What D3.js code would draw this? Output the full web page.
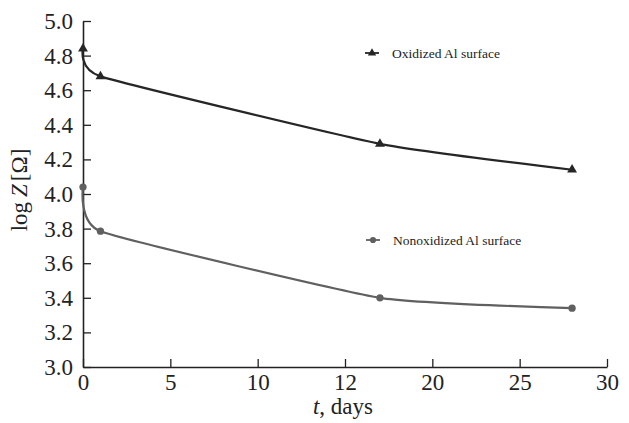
<!DOCTYPE html>
<html>
<head>
<meta charset="utf-8">
<script src="https://cdn.jsdelivr.net/npm/d3@7"></script>
<style>
  body { margin: 0; background: #fff; }
  svg text { font-family: "Liberation Serif", "DejaVu Serif", serif; fill: #222; }
</style>
</head>
<body>
<svg id="chart"></svg>
<script>
// data
const days = [0, 1, 17, 28];
const oxidized = [4.84, 4.68, 4.29, 4.14];
const nonoxidized = [4.04, 3.785, 3.40, 3.34];
const xTicks = [0, 5, 10, 15, 20, 25, 30];
const xTickLabels = ["0", "5", "10", "12", "20", "25", "30"]; // the figure prints "12" at 15
const yTicks = [3.0, 3.2, 3.4, 3.6, 3.8, 4.0, 4.2, 4.4, 4.6, 4.8, 5.0];
const seriesNames = ["Oxidized Al surface", "Nonoxidized Al surface"];

const config = {
  width: 629,
  height: 423,
  margin: { top: 21, right: 22, bottom: 56, left: 83 }
};

const width = config.width - config.margin.left - config.margin.right;
const height = config.height - config.margin.top - config.margin.bottom;
const serif = '"Liberation Serif", "DejaVu Serif", serif';

const svg = d3.select('#chart')
    .attr('width', config.width)
    .attr('height', config.height);

const chart = svg.append('g')
    .attr('transform', `translate(${config.margin.left},${config.margin.top})`);

const xScale = d3.scaleLinear().domain([0, 30]).range([0, width]);
const yScale = d3.scaleLinear().domain([3.0, 5.0]).range([height, 0]);

// axes, ticks point inwards
const xAxis = d3.axisBottom(xScale)
    .tickValues(xTicks)
    .tickFormat((d, i) => xTickLabels[i])
    .tickSizeInner(-8)
    .tickSizeOuter(0)
    .tickPadding(7);

const yAxis = d3.axisLeft(yScale)
    .tickValues(yTicks)
    .tickFormat(d3.format('.1f'))
    .tickSizeInner(-8)
    .tickSizeOuter(0)
    .tickPadding(10);

const xAxisG = chart.append('g')
    .attr('transform', `translate(0,${height})`)
    .call(xAxis);

const yAxisG = chart.append('g')
    .call(yAxis);

[xAxisG, yAxisG].forEach(g => {
  g.attr('font-family', null);
  g.select('.domain').attr('stroke', '#222').attr('stroke-width', 1.6);
  g.selectAll('.tick line').attr('stroke', '#222').attr('stroke-width', 1.3);
  g.selectAll('.tick text')
      .attr('fill', '#222')
      .style('font-family', serif)
      .style('font-size', '23px');
});
yAxisG.selectAll('.tick text').attr('dy', '0.33em');

// axis titles
chart.append('text')
    .attr('x', xScale(15) - 2)
    .attr('y', height + 47)
    .attr('text-anchor', 'middle')
    .style('font-family', serif)
    .style('font-size', '23px')
    .call(t => {
      t.append('tspan').attr('font-style', 'italic').text('t');
      t.append('tspan').text(', days');
    });

chart.append('text')
    .attr('transform', `translate(${-56},${yScale(4.0) - 4}) rotate(-90)`)
    .attr('text-anchor', 'middle')
    .style('font-family', serif)
    .style('font-size', '23px')
    .call(t => {
      t.append('tspan').text('log');
      t.append('tspan').attr('font-style', 'italic').attr('dx', 5).text('Z');
      t.append('tspan').attr('dx', 3).text('[Ω]');
    });

const series = [
  { name: seriesNames[0], values: oxidized, color: '#262626', symbol: d3.symbolTriangle },
  { name: seriesNames[1], values: nonoxidized, color: '#606060', symbol: d3.symbolCircle }
];

const line = d3.line()
    .x(d => xScale(d[0]))
    .y(d => yScale(d[1]))
    .curve(d3.curveCardinal.tension(0.55));

const legendPos = [[289, 32], [290, 219]];

series.forEach((s, i) => {
  const pts = days.map((d, j) => [d, s.values[j]]);

  chart.append('path')
      .datum(pts)
      .attr('fill', 'none')
      .attr('stroke', s.color)
      .attr('stroke-width', 2.2)
      .attr('d', line);

  chart.selectAll(null)
      .data(pts)
      .join('path')
      .attr('transform', d => `translate(${xScale(d[0])},${yScale(d[1])})`)
      .attr('d', d3.symbol().type(s.symbol).size(42))
      .attr('fill', s.color);

  // legend
  const lg = chart.append('g')
      .attr('transform', `translate(${legendPos[i][0]},${legendPos[i][1]})`);
  lg.append('line')
      .attr('x1', -7).attr('x2', 7)
      .attr('stroke', s.color)
      .attr('stroke-width', 1.8);
  lg.append('path')
      .attr('d', d3.symbol().type(s.symbol).size(30))
      .attr('fill', s.color);
  lg.append('text')
      .attr('x', 20)
      .attr('dy', '0.35em')
      .style('font-family', serif)
      .style('font-size', '13.5px')
      .text(s.name);
});
</script>
</body>
</html>
